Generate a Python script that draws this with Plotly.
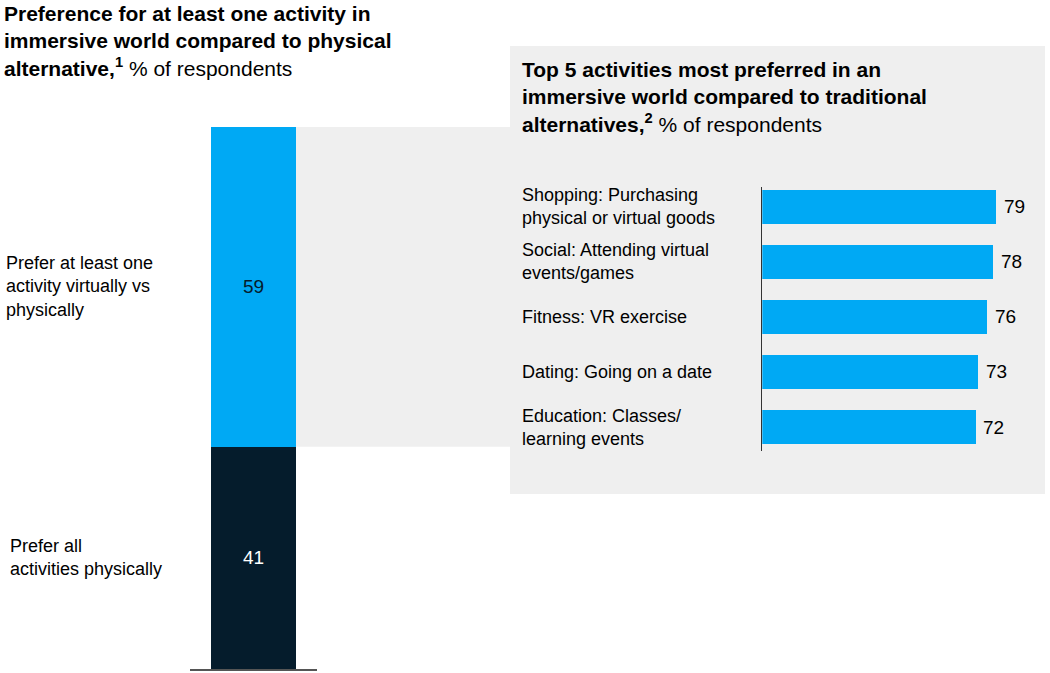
import plotly.graph_objects as go

W, H = 1050, 673

# ---- data ----
left_title = "<b>Preference for at least one activity in<br>immersive world compared to physical<br>alternative,<sup>1</sup></b> % of respondents"
right_title = "<b>Top 5 activities most preferred in an<br>immersive world compared to traditional<br>alternatives,<sup>2</sup></b> % of respondents"

split_labels = ["Prefer all<br>activities physically", "Prefer at least one<br>activity virtually vs<br>physically"]
split_values = [41, 59]
split_colors = ["#051C2C", "#00A9F4"]
split_text_colors = ["#FFFFFF", "#051C2C"]

activities = [
    "Shopping: Purchasing<br>physical or virtual goods",
    "Social: Attending virtual<br>events/games",
    "Fitness: VR exercise",
    "Dating: Going on a date",
    "Education: Classes/<br>learning events",
]
activity_values = [79, 78, 76, 73, 72]

BLUE = "#00A9F4"
GRAY = "#EFEFEF"
FONT = "Liberation Sans, Arial, sans-serif"

def px_x(p):
    return p / W

def px_y(p):
    return 1 - p / H

fig = go.Figure()

# left stacked bar
for lab, val, col, tcol in zip(split_labels, split_values, split_colors, split_text_colors):
    fig.add_trace(go.Bar(
        x=[0], y=[val], width=[0.669], marker=dict(color=col, line=dict(width=0)),
        xaxis="x", yaxis="y", showlegend=False, hoverinfo="skip",
    ))

# right horizontal bars
y_pos = list(range(len(activities)))
fig.add_trace(go.Bar(
    x=activity_values, y=y_pos, orientation="h", width=0.61,
    marker=dict(color=BLUE, line=dict(width=0)),
    xaxis="x2", yaxis="y2", showlegend=False, hoverinfo="skip",
))

shapes = [
    # gray panel
    dict(type="rect", xref="paper", yref="paper", x0=px_x(510), x1=px_x(1045),
         y0=px_y(494), y1=px_y(46), fillcolor=GRAY, line=dict(width=0), layer="below"),
    # connector from blue segment to panel
    dict(type="rect", xref="paper", yref="y", x0=px_x(296), x1=px_x(510),
         y0=split_values[0], y1=sum(split_values), fillcolor=GRAY, line=dict(width=0), layer="below"),
]

annotations = [
    dict(text=left_title, x=px_x(2), y=px_y(0), xref="paper", yref="paper",
         xanchor="left", yanchor="top", align="left", showarrow=False,
         font=dict(size=21, color="#000", family=FONT)),
    dict(text=right_title, x=px_x(520), y=px_y(56), xref="paper", yref="paper",
         xanchor="left", yanchor="top", align="left", showarrow=False,
         font=dict(size=21, color="#000", family=FONT)),
]

# left labels and in-bar values
cum = 0
label_x = [8, 4]
for lab, val, lx, tcol in zip(split_labels, split_values, label_x, split_text_colors):
    mid = cum + val / 2
    annotations.append(dict(text=lab, x=px_x(lx), y=mid, xref="paper", yref="y",
                            xanchor="left", yanchor="middle", align="left", showarrow=False,
                            font=dict(size=18, color="#000", family=FONT)))
    annotations.append(dict(text=str(val), x=0, y=mid, xref="x", yref="y",
                            xanchor="center", yanchor="middle", showarrow=False,
                            font=dict(size=19, color=tcol, family=FONT)))
    cum += val

# right labels and values
for i, (lab, val) in enumerate(zip(activities, activity_values)):
    annotations.append(dict(text=lab, x=px_x(520), y=i, xref="paper", yref="y2",
                            xanchor="left", yanchor="middle", align="left", showarrow=False,
                            font=dict(size=18, color="#000", family=FONT)))
    annotations.append(dict(text=str(val), x=val, y=i, xref="x2", yref="y2",
                            xanchor="left", yanchor="middle", xshift=5, showarrow=False,
                            font=dict(size=19, color="#000", family=FONT)))

fig.update_layout(
    width=W, height=H, margin=dict(l=0, r=0, t=0, b=0),
    paper_bgcolor="white", plot_bgcolor="rgba(0,0,0,0)",
    barmode="stack", bargap=0,
    font=dict(family=FONT, color="#000"),
    xaxis=dict(domain=[px_x(190), px_x(317)], range=[-0.5, 0.5], showticklabels=False,
               showgrid=False, zeroline=False, showline=True, linecolor="#555", linewidth=1.5,
               ticks="", fixedrange=True),
    yaxis=dict(domain=[px_y(669), px_y(127)], range=[0, 100], showticklabels=False,
               showgrid=False, zeroline=False, showline=False, fixedrange=True),
    xaxis2=dict(domain=[px_x(762.3), px_x(1044)], range=[0, 95], anchor="y2",
                showticklabels=False, showgrid=False, zeroline=False, showline=False,
                fixedrange=True),
    yaxis2=dict(domain=[px_y(450.7), px_y(187)], range=[4.43, -0.36], anchor="x2",
                showticklabels=False, showgrid=False, zeroline=False, showline=True,
                linecolor="#333", linewidth=1, ticks="", fixedrange=True),
    shapes=shapes, annotations=annotations,
)

fig.write_html("out.html")
